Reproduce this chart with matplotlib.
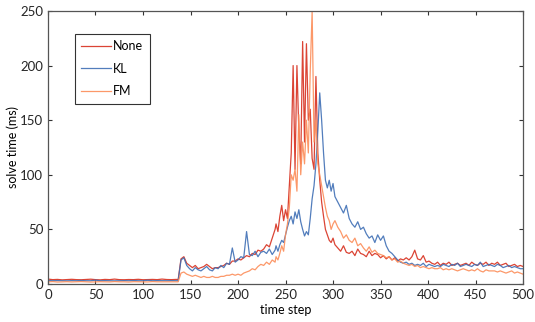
import numpy as np
import matplotlib
matplotlib.use('Agg')
import matplotlib.pyplot as plt

plt.rcParams['font.family'] = 'Lato'
plt.rcParams.update({'font.size': 9.5})

# time steps: coarse where flat, finer around the peak
steps = np.concatenate([np.arange(0, 136, 5),     # 28 flat steps
                        np.arange(137, 240, 3),   # 35
                        np.arange(240, 301, 2),   # 31 (peak)
                        np.arange(302, 501, 3)])  # 67

none_ms = [4.5, 4, 4.2, 3.8, 4, 4.3, 4, 3.9, 4.1, 4.4, 4, 3.8, 4.2, 4, 4.5, 4, 3.9, 4.1, 4, 4.3, 3.9, 4, 4.2, 4, 4.5, 4.1, 4, 4.2,
           4, 23, 25, 19, 17, 15, 17, 14, 15, 16,
           18, 16, 14, 15, 15, 16, 17, 19, 18, 21,
           21, 23, 22, 24, 26, 25, 28, 27, 31, 30,
           32, 36, 34, 42, 50,
           55, 48, 62, 72, 58, 68, 60, 90, 120, 200,
           105, 200, 140, 110, 222, 130, 220, 150, 160, 115,
           105, 190, 120, 95, 75, 62, 50, 45, 40, 38, 42,
           36, 33, 30, 35, 29, 28, 30, 26, 32, 28,
           27, 25, 30, 26, 28, 27, 24, 26, 23, 25,
           22, 24, 21, 23, 22, 24, 22, 25, 31, 23,
           22, 26, 20, 21, 19, 18, 20, 17, 19, 18,
           20, 17, 18, 19, 17, 18, 19, 17, 20, 18,
           17, 19, 18, 20, 17, 19, 18, 20, 17, 18,
           19, 16, 17, 18, 16, 17, 16]

kl_ms = [3.2, 3, 3.1, 3, 2.9, 3.1, 3, 3.2, 3, 3, 3.5, 3, 3.1, 3, 2.9, 3, 3.1, 3, 3.2, 3, 3, 3.4, 3, 3.1, 3, 3, 3.1, 3,
         3, 22, 24, 17, 14, 12, 15, 13, 12, 14,
         16, 13, 12, 15, 14, 17, 15, 19, 18, 33,
         20, 22, 25, 24, 48, 27, 26, 30, 25, 29,
         30, 28, 32, 27, 31,
         35, 30, 36, 40, 38, 45, 52, 58, 62, 55,
         66, 60, 68, 57, 50, 44, 48, 45, 60, 78,
         90, 110, 140, 175, 150, 120, 95, 88, 95, 85, 92,
         80, 75, 70, 65, 72, 60, 55, 52, 57, 50,
         52, 46, 42, 44, 38, 45, 40, 44, 35, 30,
         28, 25, 22, 20, 19, 20, 18, 19, 17, 18,
         17, 19, 16, 18, 17, 16, 17, 16, 18, 17,
         16, 18, 17, 19, 16, 17, 18, 17, 16, 18,
         17, 20, 16, 17, 18, 17, 16, 18, 17, 15,
         16, 17, 15, 16, 15, 14, 14]

fm_ms = [2, 2.2, 1.8, 2, 2.1, 1.9, 2, 2.2, 2, 1.8, 2, 2.1, 2, 1.9, 2.2, 2, 2, 1.8, 2.1, 2, 2, 1.9, 2.2, 2, 2, 2.1, 1.9, 2,
         2, 10, 11, 9, 8, 7, 8, 7, 6, 7,
         6, 6, 7, 6, 6, 7, 7, 8, 8, 9,
         8, 9, 8, 10, 11, 12, 14, 13, 16, 18,
         17, 20, 18, 22, 20,
         25, 22, 28, 35, 30, 45, 55, 70, 100, 95,
         105, 85, 155, 100, 130, 110, 150, 120, 195, 250,
         130, 150, 110, 100, 90, 80, 70, 62, 58, 50, 55,
         58, 52, 48, 42, 45, 40, 38, 42, 35, 37,
         33, 30, 34, 29, 31, 28, 27, 26, 24, 25,
         22, 23, 20, 21, 19, 18, 17, 18, 16, 17,
         15, 16, 15, 14, 15, 14, 14, 15, 13, 14,
         13, 14, 13, 12, 13, 14, 13, 12, 13, 12,
         14, 12, 11, 13, 12, 12, 12, 11, 12, 11,
         10, 11, 12, 10, 11, 10, 9]

labels = ['None', 'KL', 'FM']
colors = ['#d7301f', '#3f6fb5', '#fc8d59']

fig = plt.figure(figsize=(5.35, 3.22), dpi=100)
ax = fig.add_axes([0.0897, 0.118, 0.888, 0.848])

for y, c, lab in zip([none_ms, kl_ms, fm_ms], colors, labels):
    ax.plot(steps, y, color=c, lw=0.9, alpha=0.9, label=lab)

ax.set_xlim(0, 500)
ax.set_ylim(0, 250)
ax.set_xticks(np.arange(0, 501, 50))
ax.set_yticks(np.arange(0, 251, 50))
ax.tick_params(direction='in', top=True, right=True, length=3, width=0.8, colors='#333333', labelcolor='#262626')
for s in ax.spines.values():
    s.set_color('#555555')
    s.set_linewidth(0.9)

ax.set_xlabel('time step', fontsize=9, labelpad=2)
ax.set_ylabel('solve time (ms)', fontsize=9, labelpad=1)

leg = ax.legend(loc='upper left', bbox_to_anchor=(0.057, 0.916), borderaxespad=0,
                fancybox=False, edgecolor='black', fontsize=9, handlelength=2.4,
                handletextpad=0.15, labelspacing=0.85, borderpad=0.5)
leg.get_frame().set_linewidth(0.8)

plt.savefig('out.png', dpi=100)
plt.close()
